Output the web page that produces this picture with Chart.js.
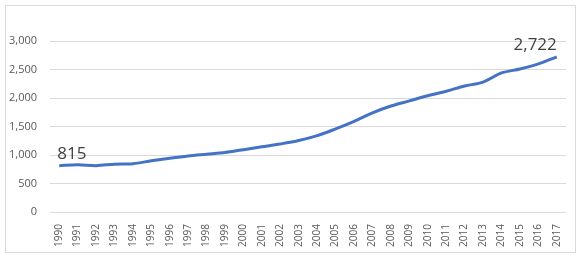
<!DOCTYPE html>
<html>
<head>
<meta charset="utf-8">
<script src="https://cdn.jsdelivr.net/npm/chart.js@4/dist/chart.umd.min.js"></script>
<style>
  body { margin: 0; background: #fff; }
  #box { position: absolute; left: 5px; top: 5px; width: 569px; height: 246px; border: 1px solid #d9d9d9; }
</style>
</head>
<body>
<div id="box"><canvas id="chart"></canvas></div>
<script>
const years = ['1990','1991','1992','1993','1994','1995','1996','1997','1998','1999',
  '2000','2001','2002','2003','2004','2005','2006','2007','2008','2009',
  '2010','2011','2012','2013','2014','2015','2016','2017'];
const values = [815, 830, 815, 840, 850, 900, 945, 985, 1015, 1045,
  1095, 1145, 1195, 1255, 1340, 1460, 1590, 1740, 1860, 1950,
  2040, 2120, 2210, 2280, 2440, 2510, 2600, 2722];
const labelled = [0, 27]; // points with a value label

// draw the value labels on first and last points
const endLabels = {
  id: 'endLabels',
  afterDatasetsDraw(chart) {
    const ctx = chart.ctx;
    const meta = chart.getDatasetMeta(0);
    ctx.save();
    ctx.font = '17px "Open Sans", sans-serif';
    ctx.fillStyle = '#404040';
    ctx.textBaseline = 'bottom';
    labelled.forEach(i => {
      const p = meta.data[i];
      ctx.textAlign = i === 0 ? 'left' : 'right';
      ctx.fillText(values[i].toLocaleString('en-US'), i === 0 ? p.x - 2 : p.x, p.y - 3);
    });
    ctx.restore();
  }
};

new Chart(document.getElementById('chart'), {
  type: 'line',
  data: {
    labels: years,
    datasets: [{
      data: values,
      borderColor: '#4472c4',
      borderWidth: 3,
      pointRadius: 0,
      tension: 0.3
    }]
  },
  options: {
    responsive: true,
    maintainAspectRatio: false,
    animation: false,
    layout: { padding: { top: 35, right: 9, left: 0, bottom: 1 } },
    plugins: { legend: { display: false }, tooltip: { enabled: false } },
    scales: {
      x: {
        offset: true,
        grid: { display: false },
        border: { display: false },
        ticks: { minRotation: 90, maxRotation: 90, color: '#595959', font: { family: 'Open Sans', size: 10 }, padding: 4 }
      },
      y: {
        min: 0, max: 3000,
        afterFit(scale) { scale.width = 44; },
        grid: { color: '#d9d9d9', drawTicks: false },
        border: { display: false },
        ticks: { stepSize: 500, color: '#595959', font: { family: 'Open Sans', size: 11 }, padding: 13 }
      }
    }
  },
  plugins: [endLabels]
});
</script>
</body>
</html>
